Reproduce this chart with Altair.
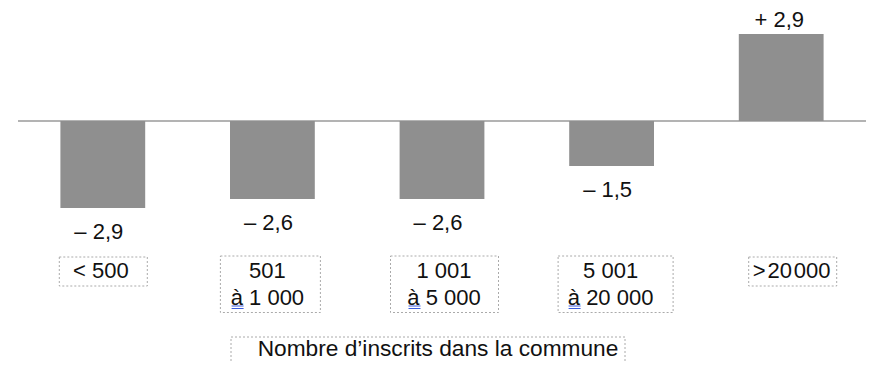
import altair as alt
import pandas as pd

# ---------------- data ----------------
categories = ["< 500", "501 à 1 000", "1 001 à 5 000", "5 001 à 20 000", "> 20 000"]
values = [-2.9, -2.6, -2.6, -1.5, 2.9]
label_line1 = ["< 500", "501", "1 001", "5 001", ">\u200a20\u200a000"]
label_line2 = ["", "à 1 000", "à 5 000", "à 20 000", ""]
axis_title = "Nombre d\u2019inscrits dans la commune"

# ---------------- layout / style (pixels) ----------------
W, H = 848, 355
STEP = W / len(categories)
PX_PER_UNIT = 30
ZERO_Y = 113
Y_DOMAIN = [-(H - ZERO_Y) / PX_PER_UNIT, ZERO_Y / PX_PER_UNIT]
FONT = "Liberation Sans"
FS = 22
BAR_COLOR = "#8f8f8f"
text_shift = [-2, -5, 2, -1, 10.5]
box_shift = [0.5, -2, 2.5, 4, 11.5]
box_width = [88, 100, 108, 115, 88]
ul_offset = [None, -35.8, -35.5, -42, None]


def ux(px):  # plot-area pixel x -> x units
    return px / STEP - 0.5


def uy(py):  # plot-area pixel y -> y units
    return (ZERO_Y - py) / PX_PER_UNIT


def fmt(v):
    return ("\u2013 " if v < 0 else "+ ") + f"{abs(v):.1f}".replace(".", ",")


idx = list(range(len(categories)))
df = pd.DataFrame({
    "cat": categories,
    "idx": idx,
    "value": values,
    "zero": [0.0] * len(values),
    "label": [fmt(v) for v in values],
    "l1": label_line1,
    "l2": label_line2,
    "lines": [2 if s else 1 for s in label_line2],
})
df["x0"] = df["idx"] - 0.25
df["x1"] = df["idx"] + 0.25
df["tx"] = df["idx"] + pd.Series(text_shift) / STEP
df["bx0"] = df["idx"] + (pd.Series(box_shift) - pd.Series(box_width) / 2) / STEP
df["bx1"] = df["idx"] + (pd.Series(box_shift) + pd.Series(box_width) / 2) / STEP
df["by0"] = [uy(249) if n == 1 else uy(248) for n in df["lines"]]
df["by1"] = [uy(278) if n == 1 else uy(304.5) for n in df["lines"]]
df["ty1"] = uy(263)
df["ty2"] = uy(290)

offs = [o for o in ul_offset if o is not None]
ul = df[[o is not None for o in ul_offset]].copy().reset_index(drop=True)
ul["ux0"] = ul["tx"] + pd.Series(offs) / STEP
ul["ux1"] = ul["ux0"] + 12 / STEP
ul["uya"] = uy(298)
ul["uyb"] = uy(300.5)

zdf = pd.DataFrame({"xa": [-0.5], "xb": [len(categories) - 0.5], "y": [0.0]})
tdf = pd.DataFrame({
    "t": [axis_title],
    "bx0": [ux(213)], "bx1": [ux(607)],
    "by0": [uy(329)], "by1": [uy(357)],
    "tx": [ux(420)], "ty": [uy(341)],
})

xs = alt.Scale(domain=[-0.5, len(categories) - 0.5], nice=False, zero=False)
ys = alt.Scale(domain=Y_DOMAIN, nice=False, zero=False)
X = lambda f: alt.X(f, type="quantitative", scale=xs, axis=None)
Y = lambda f: alt.Y(f, type="quantitative", scale=ys, axis=None)

base = alt.Chart(df)

zero = alt.Chart(zdf).mark_rule(color="#9a9a9a", strokeWidth=1.5).encode(
    x=X("xa"), x2="xb", y=Y("y")
)

bars = base.mark_rect(color=BAR_COLOR).encode(
    x=X("x0"), x2="x1", y=Y("value"), y2="zero"
)

neg_labels = base.transform_filter("datum.value < 0").mark_text(
    font=FONT, fontSize=FS, baseline="middle", dy=24, dx=-4, color="#111"
).encode(x=X("idx"), y=Y("value"), text="label:N")

pos_labels = base.transform_filter("datum.value >= 0").mark_text(
    font=FONT, fontSize=FS, baseline="middle", dy=-14, dx=-2, color="#111"
).encode(x=X("idx"), y=Y("value"), text="label:N")

box_style = dict(fill="white", fillOpacity=0, stroke="#aaaaaa", strokeWidth=1, strokeDash=[2, 2])

boxes = base.mark_rect(**box_style).encode(
    x=X("bx0"), x2="bx1", y=Y("by0"), y2="by1"
)

line1 = base.mark_text(font=FONT, fontSize=FS, baseline="middle", color="#111").encode(
    x=X("tx"), y=Y("ty1"), text="l1:N"
)
line2 = base.transform_filter("datum.lines == 2").mark_text(
    font=FONT, fontSize=FS, baseline="middle", color="#111"
).encode(x=X("tx"), y=Y("ty2"), text="l2:N")

ul_base = alt.Chart(ul)
ul_a = ul_base.mark_rule(color="#3a5be0", strokeWidth=1).encode(
    x=X("ux0"), x2="ux1", y=Y("uya")
)
ul_b = ul_base.mark_rule(color="#3a5be0", strokeWidth=1).encode(
    x=X("ux0"), x2="ux1", y=Y("uyb")
)

title_box = alt.Chart(tdf).mark_rect(**box_style).encode(
    x=X("bx0"), x2="bx1", y=Y("by0"), y2="by1"
)
title_text = alt.Chart(tdf).mark_text(font=FONT, fontSize=22.7, baseline="middle", color="#111").encode(
    x=X("tx"), y=Y("ty"), text="t:N"
)

chart = alt.layer(
    zero, bars, neg_labels, pos_labels, boxes, line1, line2, ul_a, ul_b, title_box, title_text
).properties(
    width=W, height=H,
    padding={"left": 10, "top": 0, "right": 0, "bottom": 0},
    autosize="none",
).configure_view(stroke=None)

chart.save("out.html", embed_options={"renderer": "svg", "actions": False})
